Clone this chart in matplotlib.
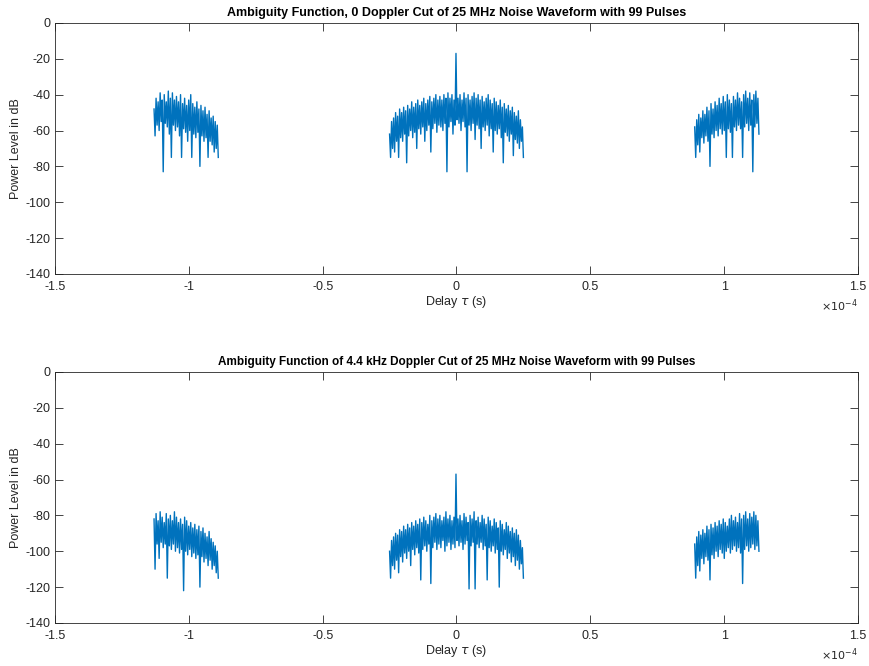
import numpy as np
import matplotlib
matplotlib.use("Agg")
import matplotlib.pyplot as plt
from matplotlib.ticker import FuncFormatter

plt.rcParams['font.family'] = ['Liberation Sans', 'DejaVu Sans']
plt.rcParams['axes.unicode_minus'] = False

# delay extents of the three lobes, in units of 1e-4 s
left_span = (-1.13, -0.89)
center_span = (-0.25, 0.25)
right_span = (0.89, 1.13)

# 0 Doppler cut: upper / lower excursions of the trace (dB)
left_hi_0 = [-48, -42, -44, -39, -43, -40, -44, -38, -42, -39, -43, -41, -44, -40, -45, -42,
             -46, -43, -40, -45, -47, -44, -48, -46, -49, -47, -51, -49, -53, -52, -55, -57]
left_lo_0 = [-63, -57, -60, -55, -83, -56, -58, -62, -75, -57, -60, -58, -63, -75, -59, -61,
             -66, -60, -75, -62, -64, -61, -80, -63, -66, -64, -75, -66, -68, -72, -70, -75]
center_hi_0 = [-62, -55, -53, -50, -52, -48, -50, -47, -49, -46, -48, -44, -47, -45, -43, -46,
               -44, -42, -45, -43, -41, -44, -42, -40, -43, -41, -43, -40, -42, -39, -42, -40,
               -43, -17, -42, -40, -43, -39, -42, -40, -43, -41, -39, -42, -40, -43, -41, -44,
               -42, -40, -43, -45, -42, -44, -46, -43, -47, -45, -48, -46, -49, -47, -50, -52,
               -49, -54, -58]
center_lo_0 = [-75, -70, -72, -66, -75, -64, -66, -62, -78, -63, -60, -64, -61, -70, -59, -62,
               -58, -66, -60, -57, -72, -59, -56, -61, -57, -58, -60, -56, -83, -58, -55, -62,
               -57, -54, -56, -60, -55, -58, -83, -57, -60, -56, -65, -57, -59, -70, -58, -60,
               -57, -63, -59, -72, -60, -62, -59, -64, -78, -61, -63, -66, -62, -74, -65, -67,
               -70, -66, -75]
right_hi_0 = [-58, -54, -51, -53, -49, -51, -47, -49, -45, -48, -44, -46, -42, -45, -41, -44,
              -40, -43, -45, -41, -43, -39, -42, -44, -40, -38, -42, -39, -43, -40, -38, -42]
right_lo_0 = [-75, -68, -72, -64, -67, -63, -66, -80, -62, -64, -60, -63, -59, -62, -60, -75,
              -59, -61, -75, -58, -60, -57, -59, -75, -58, -56, -60, -57, -83, -58, -56, -62]

# 4.4 kHz Doppler cut
left_hi_1 = [-82, -79, -83, -78, -81, -84, -79, -82, -80, -83, -78, -81, -84, -82, -85, -81,
             -83, -86, -84, -87, -85, -88, -86, -89, -87, -90, -92, -89, -93, -95, -97, -100]
left_lo_1 = [-110, -96, -104, -95, -98, -96, -115, -97, -99, -96, -100, -98, -101, -99, -122, -100,
             -102, -99, -103, -101, -104, -102, -120, -103, -106, -104, -108, -105, -110, -108, -112, -115]
center_hi_1 = [-100, -94, -92, -90, -91, -88, -89, -86, -88, -85, -87, -84, -86, -83, -85, -82,
               -84, -81, -83, -85, -80, -83, -81, -79, -82, -80, -83, -81, -78, -82, -80, -83,
               -81, -57, -82, -80, -83, -79, -81, -84, -80, -82, -78, -83, -81, -84, -80, -82,
               -85, -81, -83, -86, -82, -84, -87, -83, -85, -88, -84, -86, -89, -87, -90, -88,
               -91, -94, -98]
center_lo_1 = [-115, -108, -110, -105, -112, -103, -106, -101, -104, -100, -108, -99, -102, -98, -101, -116,
               -99, -97, -100, -96, -118, -98, -95, -99, -96, -98, -94, -100, -97, -95, -99, -96,
               -98, -94, -97, -95, -99, -96, -94, -121, -97, -95, -121, -96, -98, -95, -99, -97,
               -116, -98, -100, -97, -101, -99, -120, -100, -102, -99, -104, -101, -106, -103, -108, -105,
               -110, -107, -115]
right_hi_1 = [-96, -92, -89, -91, -88, -90, -86, -88, -85, -87, -84, -86, -83, -85, -82, -84,
              -86, -82, -80, -83, -81, -84, -79, -82, -80, -78, -82, -79, -81, -78, -80, -83]
right_lo_1 = [-115, -108, -111, -104, -107, -103, -105, -116, -102, -104, -100, -103, -99, -101, -104, -100,
              -98, -101, -99, -97, -100, -98, -101, -118, -99, -97, -100, -98, -96, -99, -97, -100]

titles = ['Ambiguity Function, 0 Doppler Cut of 25 MHz Noise Waveform with 99 Pulses',
          'Ambiguity Function of 4.4 kHz Doppler Cut of 25 MHz Noise Waveform with 99 Pulses']
title_sizes = [9, 8.5]
cuts = [
    [(left_span, left_hi_0, left_lo_0), (center_span, center_hi_0, center_lo_0), (right_span, right_hi_0, right_lo_0)],
    [(left_span, left_hi_1, left_lo_1), (center_span, center_hi_1, center_lo_1), (right_span, right_hi_1, right_lo_1)],
]


def trace(lobes):
    xs, ys = [], []
    for (a, b), hi, lo in lobes:
        vals = [v for pair in zip(hi, lo) for v in pair]
        xs.extend(np.linspace(a, b, len(vals)))
        ys.extend(vals)
        xs.append(np.nan)
        ys.append(np.nan)
    return np.array(xs), np.array(ys)


fig = plt.figure(figsize=(8.69, 6.66), dpi=100)
positions = [[0.0633, 0.5886, 0.924, 0.377], [0.0633, 0.0646, 0.924, 0.377]]
dark = '#262626'

for pos, title, tsize, lobes in zip(positions, titles, title_sizes, cuts):
    ax = fig.add_axes(pos)
    x, y = trace(lobes)
    ax.plot(x, y, color='#0072BD', lw=1.0)
    ax.set_xlim(-1.5, 1.5)
    ax.set_ylim(-140, 0)
    ax.set_xticks([-1.5, -1, -0.5, 0, 0.5, 1, 1.5])
    ax.set_yticks(range(-140, 1, 20))
    ax.xaxis.set_major_formatter(FuncFormatter(lambda v, p: '%g' % v))
    ax.tick_params(direction='in', length=5.5, width=0.6, top=True, right=True,
                   labelsize=9, colors=dark)
    ax.tick_params(axis='x', pad=5)
    ax.tick_params(axis='y', pad=3)
    for s in ax.spines.values():
        s.set_color(dark)
        s.set_linewidth(0.6)
    ax.set_title(title, fontsize=tsize, fontweight='bold', color='black', pad=5)
    ax.set_ylabel('Power Level in dB', fontsize=9, color=dark, labelpad=3)
    ax.set_xlabel(r'Delay $\tau$ (s)', fontsize=9, color=dark, labelpad=1)
    ax.text(1.0, -0.095, r'$\times10^{-4}$', transform=ax.transAxes,
            ha='right', va='top', fontsize=8, color=dark)

fig.savefig('out.png', dpi=100)
